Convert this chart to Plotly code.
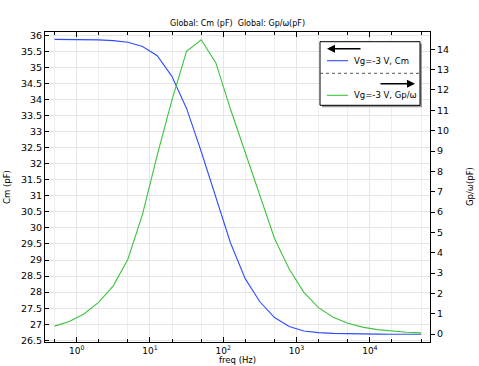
import plotly.graph_objects as go

freq_hz = [0.5, 0.7924, 1.2559, 1.9905, 3.1548, 5.0, 7.9245, 12.559, 19.905, 31.548,
           50.0, 79.245, 125.59, 199.05, 315.48, 500.0, 792.45, 1255.9, 1990.5, 3154.8,
           5000.0, 7924.5, 12559.0, 19905.0, 31548.0, 50000.0]
cm_pf = [35.87, 35.868, 35.865, 35.855, 35.83, 35.78, 35.65, 35.36, 34.72, 33.72,
         32.38, 30.92, 29.53, 28.42, 27.70, 27.21, 26.93, 26.79, 26.74, 26.715,
         26.70, 26.695, 26.692, 26.69, 26.688, 26.687]
gp_w_pf = [0.39, 0.62, 0.99, 1.56, 2.37, 3.68, 5.9, 8.8, 11.5, 13.9,
           14.47, 13.33, 11.05, 8.95, 6.75, 4.7, 3.2, 2.05, 1.3, 0.83,
           0.53, 0.34, 0.22, 0.14, 0.09, 0.06]

x_tickvals = [1, 10, 100, 1000, 10000]
x_ticktext = ["10<sup>0</sup>", "10<sup>1</sup>", "10<sup>2</sup>", "10<sup>3</sup>", "10<sup>4</sup>"]
cm_tickvals = [26.5 + 0.5 * i for i in range(20)]
cm_ticktext = [("%g" % v) for v in cm_tickvals]
gp_tickvals = list(range(0, 15))

title_text = "Global: Cm (pF)  Global: Gp/\u03c9(pF)"
x_title = "freq (Hz)"
y1_title = "Cm (pF)"
y2_title = "Gp/\u03c9(pF)"
legend_labels = ["Vg=-3 V, Cm", "Vg=-3 V, Gp/\u03c9"]

BLUE = "#2f4dff"
GREEN = "#3cc43c"
FONT = "DejaVu Sans"

W, H = 479, 366
L, R, T, B = 45, 430, 32, 342


def px(x):
    return (x - L) / (R - L)


def py(y):
    return (B - y) / (B - T)


fig = go.Figure()
fig.add_trace(go.Scatter(x=freq_hz, y=cm_pf, mode="lines", name=legend_labels[0],
                         line=dict(color=BLUE, width=1.1), yaxis="y"))
fig.add_trace(go.Scatter(x=freq_hz, y=gp_w_pf, mode="lines", name=legend_labels[1],
                         line=dict(color=GREEN, width=1.1), yaxis="y2"))

fig.update_layout(
    width=W, height=H,
    margin=dict(l=L, r=W - R, t=T, b=H - B, pad=0, autoexpand=False),
    paper_bgcolor="white", plot_bgcolor="white",
    showlegend=False,
    font=dict(family=FONT, size=9, color="black"),
    xaxis=dict(
        type="log", range=[-0.432, 4.82], automargin=False,
        tickvals=x_tickvals, ticktext=x_ticktext,
        ticks="inside", ticklen=5, tickcolor="black", tickwidth=1,
        showline=True, linecolor="black", linewidth=1, mirror="ticks",
        showgrid=True, gridcolor="#e6e6e6", gridwidth=1, zeroline=False,
        minor=dict(ticks="inside", ticklen=3, tickcolor="black", showgrid=True,
                   gridcolor="#eeeeee", gridwidth=1),
        tickfont=dict(size=9),
    ),
    yaxis=dict(
        range=[26.447, 36.10], automargin=False,
        tickvals=cm_tickvals, ticktext=cm_ticktext,
        ticks="inside", ticklen=4, tickcolor="black",
        showline=True, linecolor="black", linewidth=1,
        showgrid=True, gridcolor="#e6e6e6", zeroline=False,
        tickfont=dict(size=9.5),
    ),
    yaxis2=dict(
        overlaying="y", side="right", automargin=False,
        range=[-0.39, 14.85],
        tickvals=gp_tickvals,
        ticks="outside", ticklen=4, tickcolor="black",
        showline=True, linecolor="black", linewidth=1,
        showgrid=False, zeroline=False,
        tickfont=dict(size=9.5),
    ),
)

# title and axis titles
fig.add_annotation(xref="paper", yref="paper", x=px(237.5), y=py(23.5), text=title_text,
                   showarrow=False, xanchor="center", yanchor="middle", font=dict(size=8))
fig.add_annotation(xref="paper", yref="paper", x=px(237.5), y=py(360), text=x_title,
                   showarrow=False, xanchor="center", yanchor="middle", font=dict(size=8.5))
fig.add_annotation(xref="paper", yref="paper", x=px(7), y=py(187), text=y1_title, textangle=-90,
                   showarrow=False, xanchor="center", yanchor="middle", font=dict(size=8.5))
fig.add_annotation(xref="paper", yref="paper", x=px(470), y=py(187), text=y2_title, textangle=-90,
                   showarrow=False, xanchor="center", yanchor="middle", font=dict(size=8.5))

# legend box (drawn manually, COMSOL style)
lx0, lx1, ly0, ly1 = 320, 420, 41.7, 105.3
fig.add_shape(type="rect", xref="paper", yref="paper",
              x0=px(lx0 + 2), x1=px(lx1 + 2), y0=py(ly0 + 2), y1=py(ly1 + 2),
              fillcolor="#9a9a9a", line=dict(width=0))
fig.add_shape(type="rect", xref="paper", yref="paper",
              x0=px(lx0), x1=px(lx1), y0=py(ly0), y1=py(ly1),
              fillcolor="white", line=dict(color="black", width=1))
fig.add_shape(type="line", xref="paper", yref="paper",
              x0=px(lx0), x1=px(lx1), y0=py(73.3), y1=py(73.3),
              line=dict(color="#555555", width=1, dash="dot"))
# sample lines
fig.add_shape(type="line", xref="paper", yref="paper",
              x0=px(327), x1=px(348), y0=py(60.7), y1=py(60.7),
              line=dict(color=BLUE, width=1.1))
fig.add_shape(type="line", xref="paper", yref="paper",
              x0=px(327), x1=px(348), y0=py(95.3), y1=py(95.3),
              line=dict(color=GREEN, width=1.1))
fig.add_annotation(xref="paper", yref="paper", x=px(352), y=py(60.7), text=legend_labels[0],
                   showarrow=False, xanchor="left", yanchor="middle", font=dict(size=8.5))
fig.add_annotation(xref="paper", yref="paper", x=px(352), y=py(95.3), text=legend_labels[1],
                   showarrow=False, xanchor="left", yanchor="middle", font=dict(size=8.5))
# arrows
fig.add_annotation(xref="paper", yref="paper", x=px(327), y=py(48.7), ax=35, ay=0,
                   text="", showarrow=True, arrowhead=2, arrowsize=1, arrowwidth=1.6,
                   arrowcolor="black")
fig.add_annotation(xref="paper", yref="paper", x=px(415), y=py(83.7), ax=-36, ay=0,
                   text="", showarrow=True, arrowhead=2, arrowsize=1, arrowwidth=1.6,
                   arrowcolor="black")

fig.write_html("out.html", config={"displayModeBar": False},
               post_script="document.body.style.margin='0';document.body.style.padding='0';")
